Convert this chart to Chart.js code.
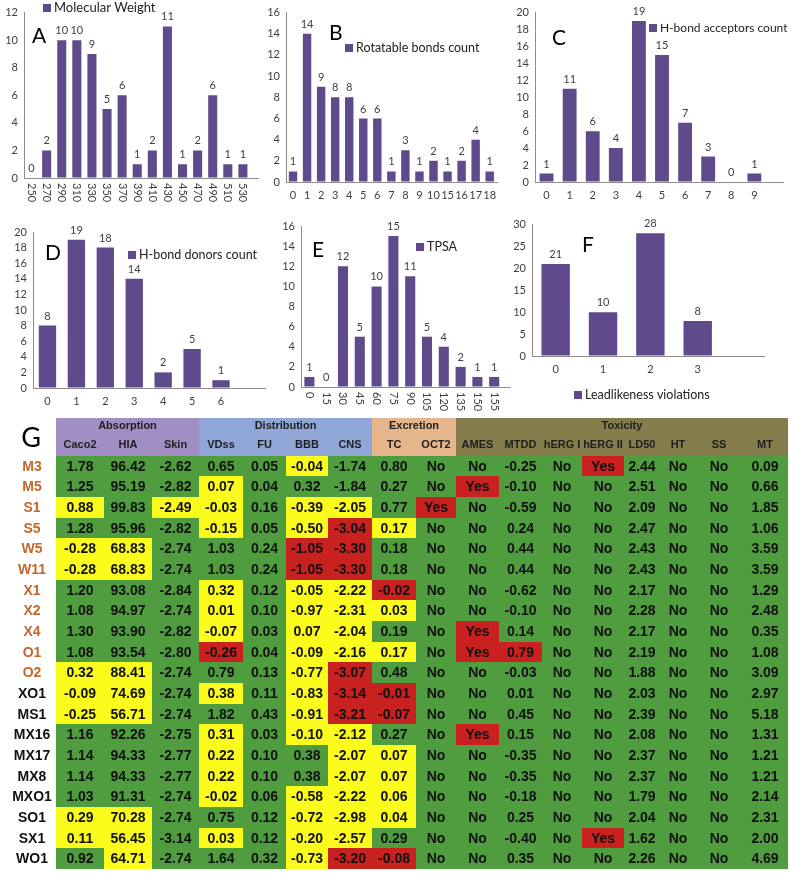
<!DOCTYPE html>
<html>
<head>
<meta charset="utf-8">
<script src="https://cdn.jsdelivr.net/npm/chart.js@4.4.1/dist/chart.umd.min.js"></script>
<style>
  body { margin: 0; background: #fff; width: 791px; height: 873px; position: relative; overflow: hidden; }
  canvas { position: absolute; }
</style>
</head>
<body>
<canvas id="chartA" width="262" height="210" style="left:0;top:0"></canvas>
<canvas id="chartB" width="243" height="210" style="left:262px;top:0"></canvas>
<canvas id="chartC" width="286" height="210" style="left:505px;top:0"></canvas>
<canvas id="chartD" width="270" height="200" style="left:0;top:212px"></canvas>
<canvas id="chartE" width="250" height="200" style="left:270px;top:212px"></canvas>
<canvas id="chartF" width="286" height="200" style="left:505px;top:212px"></canvas>
<canvas id="admetTable" width="791" height="461" style="left:0;top:412px"></canvas>
<script>
// histogram data (counts of compounds)
const mwLabels = ['250', '270', '290', '310', '330', '350', '370', '390', '410', '430', '450', '470', '490', '510', '530'];
const mwCounts = [0, 2, 10, 10, 9, 5, 6, 1, 2, 11, 1, 2, 6, 1, 1];

const rotLabels = ['0', '1', '2', '3', '4', '5', '6', '7', '8', '9', '10', '15', '16', '17', '18'];
const rotCounts = [1, 14, 9, 8, 8, 6, 6, 1, 3, 1, 2, 1, 2, 4, 1];

const accLabels = ['0', '1', '2', '3', '4', '5', '6', '7', '8', '9'];
const accCounts = [1, 11, 6, 4, 19, 15, 7, 3, 0, 1];

const donLabels = ['0', '1', '2', '3', '4', '5', '6'];
const donCounts = [8, 19, 18, 14, 2, 5, 1];

const tpsaLabels = ['0', '15', '30', '45', '60', '75', '90', '105', '120', '135', '150', '155'];
const tpsaCounts = [1, 0, 12, 5, 10, 15, 11, 5, 4, 2, 1, 1];

const leadLabels = ['0', '1', '2', '3'];
const leadCounts = [21, 10, 28, 8];

// ADMET table
const compounds = ['M3', 'M5', 'S1', 'S5', 'W5', 'W11', 'X1', 'X2', 'X4', 'O1', 'O2',
  'XO1', 'MS1', 'MX16', 'MX17', 'MX8', 'MXO1', 'SO1', 'SX1', 'WO1'];
const propGroups = ['Absorption', 'Distribution', 'Excretion', 'Toxicity'];
const groupSizes = [3, 4, 2, 8];
const properties = ['Caco2', 'HIA', 'Skin', 'VDss', 'FU', 'BBB', 'CNS', 'TC', 'OCT2',
  'AMES', 'MTDD', 'hERG I', 'hERG II', 'LD50', 'HT', 'SS', 'MT'];
const admet = [
  [1.78, 96.42, -2.62, 0.65, 0.05, -0.04, -1.74, 0.80, 'No', 'No', -0.25, 'No', 'Yes', 2.44, 'No', 'No', 0.09],
  [1.25, 95.19, -2.82, 0.07, 0.04, 0.32, -1.84, 0.27, 'No', 'Yes', -0.10, 'No', 'No', 2.51, 'No', 'No', 0.66],
  [0.88, 99.83, -2.49, -0.03, 0.16, -0.39, -2.05, 0.77, 'Yes', 'No', -0.59, 'No', 'No', 2.09, 'No', 'No', 1.85],
  [1.28, 95.96, -2.82, -0.15, 0.05, -0.50, -3.04, 0.17, 'No', 'No', 0.24, 'No', 'No', 2.47, 'No', 'No', 1.06],
  [-0.28, 68.83, -2.74, 1.03, 0.24, -1.05, -3.30, 0.18, 'No', 'No', 0.44, 'No', 'No', 2.43, 'No', 'No', 3.59],
  [-0.28, 68.83, -2.74, 1.03, 0.24, -1.05, -3.30, 0.18, 'No', 'No', 0.44, 'No', 'No', 2.43, 'No', 'No', 3.59],
  [1.20, 93.08, -2.84, 0.32, 0.12, -0.05, -2.22, -0.02, 'No', 'No', -0.62, 'No', 'No', 2.17, 'No', 'No', 1.29],
  [1.08, 94.97, -2.74, 0.01, 0.10, -0.97, -2.31, 0.03, 'No', 'No', -0.10, 'No', 'No', 2.28, 'No', 'No', 2.48],
  [1.30, 93.90, -2.82, -0.07, 0.03, 0.07, -2.04, 0.19, 'No', 'Yes', 0.14, 'No', 'No', 2.17, 'No', 'No', 0.35],
  [1.08, 93.54, -2.80, -0.26, 0.04, -0.09, -2.16, 0.17, 'No', 'Yes', 0.79, 'No', 'No', 2.19, 'No', 'No', 1.08],
  [0.32, 88.41, -2.74, 0.79, 0.13, -0.77, -3.07, 0.48, 'No', 'No', -0.03, 'No', 'No', 1.88, 'No', 'No', 3.09],
  [-0.09, 74.69, -2.74, 0.38, 0.11, -0.83, -3.14, -0.01, 'No', 'No', 0.01, 'No', 'No', 2.03, 'No', 'No', 2.97],
  [-0.25, 56.71, -2.74, 1.82, 0.43, -0.91, -3.21, -0.07, 'No', 'No', 0.45, 'No', 'No', 2.39, 'No', 'No', 5.18],
  [1.16, 92.26, -2.75, 0.31, 0.03, -0.10, -2.12, 0.27, 'No', 'Yes', 0.15, 'No', 'No', 2.08, 'No', 'No', 1.31],
  [1.14, 94.33, -2.77, 0.22, 0.10, 0.38, -2.07, 0.07, 'No', 'No', -0.35, 'No', 'No', 2.37, 'No', 'No', 1.21],
  [1.14, 94.33, -2.77, 0.22, 0.10, 0.38, -2.07, 0.07, 'No', 'No', -0.35, 'No', 'No', 2.37, 'No', 'No', 1.21],
  [1.03, 91.31, -2.74, -0.02, 0.06, -0.58, -2.22, 0.06, 'No', 'No', -0.18, 'No', 'No', 1.79, 'No', 'No', 2.14],
  [0.29, 70.28, -2.74, 0.75, 0.12, -0.72, -2.98, 0.04, 'No', 'No', 0.25, 'No', 'No', 2.04, 'No', 'No', 2.31],
  [0.11, 56.45, -3.14, 0.03, 0.12, -0.20, -2.57, 0.29, 'No', 'No', -0.40, 'No', 'Yes', 1.62, 'No', 'No', 2.00],
  [0.92, 64.71, -2.74, 1.64, 0.32, -0.73, -3.20, -0.08, 'No', 'No', 0.35, 'No', 'No', 2.26, 'No', 'No', 4.69]
];
// g = acceptable, y = borderline, r = unfavourable
const flags = [
  'gggggyggggggrgggg',
  'gggygggggrggggggg',
  'ygyygyygrgggggggg',
  'gggygyryggggggggg',
  'yygggrrgggggggggg',
  'yygggrrgggggggggg',
  'gggygyyrggggggggg',
  'gggygyyyggggggggg',
  'gggygyyggrggggggg',
  'gggrgyyygrrgggggg',
  'yygggyrgggggggggg',
  'yygygyrrggggggggg',
  'yygggyrrggggggggg',
  'gggygyyggrggggggg',
  'gggyggyyggggggggg',
  'gggyggyyggggggggg',
  'gggygyyyggggggggg',
  'yygggyyyggggggggg',
  'yygygyygggggrgggg',
  'gygggyrrggggggggg'
];

const BAR_COLOR = '#5f4a8b';
Chart.defaults.font.family = 'Lato, "Open Sans", sans-serif';
Chart.defaults.color = '#404040';

// value labels, legend box, panel letter, rotated tick labels
const barExtras = {
  id: 'barExtras',
  afterDatasetsDraw(chart, args, opts) {
    const ctx = chart.ctx;
    const ds = chart.data.datasets[0];
    const meta = chart.getDatasetMeta(0);
    ctx.save();
    ctx.font = '11px Lato';
    ctx.fillStyle = '#404040';
    ctx.textAlign = 'center';
    ctx.textBaseline = 'bottom';
    meta.data.forEach((bar, i) => {
      ctx.fillText(String(ds.data[i].y), bar.x, bar.y - 4);
    });

    if (opts.rotated) {
      const xs = chart.scales.x;
      ctx.textAlign = 'left';
      ctx.textBaseline = 'middle';
      opts.labels.forEach((lab, i) => {
        ctx.save();
        ctx.translate(xs.getPixelForValue(i), chart.chartArea.bottom + 5);
        ctx.rotate(Math.PI / 2);
        ctx.fillText(lab, 0, 0);
        ctx.restore();
      });
    }

    ctx.fillStyle = ds.backgroundColor;
    ctx.fillRect(opts.legendX, opts.legendY - 4, 8, 8);
    ctx.fillStyle = '#222';
    ctx.font = opts.legendSize + 'px Lato';
    ctx.textAlign = 'left';
    ctx.textBaseline = 'middle';
    ctx.fillText(ds.label, opts.legendX + 11, opts.legendY);

    ctx.font = '21px Lato';
    ctx.fillStyle = '#000';
    ctx.textBaseline = 'alphabetic';
    ctx.fillText(opts.letter, opts.letterX, opts.letterY);
    ctx.restore();
  }
};

function histogram(canvasId, title, labels, counts, s) {
  return new Chart(document.getElementById(canvasId), {
    type: 'bar',
    data: {
      datasets: [{
        label: title,
        data: counts.map((v, i) => ({ x: i, y: v })),
        backgroundColor: BAR_COLOR,
        barPercentage: 1,
        categoryPercentage: 0.6
      }]
    },
    options: {
      responsive: false,
      animation: false,
      events: [],
      layout: { padding: { top: s.padTop, right: s.padRight, left: 0, bottom: 0 } },
      plugins: {
        legend: { display: false },
        tooltip: { enabled: false },
        barExtras: {
          rotated: !!s.rotated, labels: labels,
          legendX: s.legendX, legendY: s.legendY, legendSize: s.legendSize || 12.5,
          letter: s.letter, letterX: s.letterX, letterY: s.letterY
        }
      },
      scales: {
        x: {
          type: 'linear',
          min: -0.5,
          max: s.xMax,
          offset: false,
          grid: { offset: false, drawOnChartArea: false, drawTicks: false },
          border: { display: true, color: '#8c8c8c' },
          ticks: {
            display: !s.rotated,
            stepSize: 1,
            autoSkip: false,
            includeBounds: false,
            maxRotation: 0,
            padding: 7,
            font: { size: 11 },
            callback: v => labels[v] !== undefined ? labels[v] : ''
          },
          afterFit: sc => { sc.height = s.xHeight; }
        },
        y: {
          min: 0,
          max: s.yMax,
          grid: { drawOnChartArea: false, drawTicks: false },
          border: { display: true, color: '#8c8c8c' },
          ticks: { stepSize: s.yStep, autoSkip: false, padding: 6, font: { size: 11 } },
          afterFit: sc => { sc.width = s.yWidth; }
        }
      }
    },
    plugins: [barExtras]
  });
}

histogram('chartA', 'Molecular Weight', mwLabels, mwCounts, {
  padTop: 10, padRight: 4, xHeight: 32, yWidth: 24, xMax: 15.0, yMax: 12, yStep: 2, rotated: true,
  legendX: 43, legendY: 8, legendSize: 13, letter: 'A', letterX: 32, letterY: 43
});
histogram('chartB', 'Rotatable bonds count', rotLabels, rotCounts, {
  padTop: 10, padRight: 8, xHeight: 28, yWidth: 24, xMax: 14.52, yMax: 16, yStep: 2,
  legendX: 83, legendY: 48, letter: 'B', letterX: 67, letterY: 40
});
histogram('chartC', 'H-bond acceptors count', accLabels, accCounts, {
  padTop: 10, padRight: 8, xHeight: 28, yWidth: 30, xMax: 10.24, yMax: 20, yStep: 2,
  legendX: 144, legendY: 28, legendSize: 12, letter: 'C', letterX: 47, letterY: 45
});
histogram('chartD', 'H-bond donors count', donLabels, donCounts, {
  padTop: 20, padRight: 5, xHeight: 24, yWidth: 33, xMax: 7.52, yMax: 20, yStep: 2,
  legendX: 128, legendY: 43, letter: 'D', letterX: 45, letterY: 48
});
histogram('chartE', 'TPSA', tpsaLabels, tpsaCounts, {
  padTop: 14, padRight: 10, xHeight: 25, yWidth: 31, xMax: 11.94, yMax: 16, yStep: 2, rotated: true,
  legendX: 146, legendY: 35, letter: 'E', letterX: 42, letterY: 45
});
histogram('chartF', 'Leadlikeness violations', leadLabels, leadCounts, {
  padTop: 7, padRight: 27, xHeight: 56, yWidth: 27, xMax: 4.4, yMax: 30, yStep: 5,
  legendX: 69, legendY: 183, letter: 'F', letterX: 77, letterY: 40
});

// table drawn cell by cell on the chart's linear scales
const tableDraw = {
  id: 'tableDraw',
  afterDraw(chart, args, opts) {
    const { ctx, scales: { x, y } } = chart;
    const edges = opts.colEdges;
    const box = (c0, c1, r0, r1) => {
      const left = Math.round(x.getPixelForValue(edges[c0]));
      const right = Math.round(x.getPixelForValue(edges[c1]));
      const top = Math.round(y.getPixelForValue(r0));
      const bottom = Math.round(y.getPixelForValue(r1));
      return { left, top, w: right - left, h: bottom - top, cx: (left + right) / 2, cy: (top + bottom) / 2 };
    };
    ctx.save();
    ctx.textAlign = 'center';
    ctx.textBaseline = 'middle';

    // header bands
    let c = 0;
    propGroups.forEach((g, gi) => {
      const b = box(c, c + groupSizes[gi], opts.headerTop, 0);
      ctx.fillStyle = opts.groupColors[gi];
      ctx.fillRect(b.left, b.top, b.w, b.h);
      ctx.fillStyle = '#1e1e1e';
      ctx.font = 'bold 11px "Liberation Sans", Arial';
      ctx.fillText(g, b.cx, y.getPixelForValue(opts.groupTextRow));
      c += groupSizes[gi];
    });
    properties.forEach((p, i) => {
      const b = box(i, i + 1, opts.headerTop, 0);
      ctx.fillText(p, b.cx, y.getPixelForValue(opts.propTextRow));
    });

    // data cells
    compounds.forEach((name, r) => {
      properties.forEach((p, ci) => {
        const b = box(ci, ci + 1, r, r + 1);
        ctx.fillStyle = opts.flagColors[flags[r][ci]];
        ctx.fillRect(b.left, b.top, b.w, b.h);
      });
    });
    ctx.font = 'bold 14px "Liberation Sans", Arial';
    compounds.forEach((name, r) => {
      properties.forEach((p, ci) => {
        const b = box(ci, ci + 1, r, r + 1);
        const v = admet[r][ci];
        ctx.fillStyle = '#111';
        ctx.fillText(typeof v === 'number' ? v.toFixed(2) : v, b.cx, b.cy + 1);
      });
      const rb = box(0, 1, r, r + 1);
      ctx.fillStyle = r < opts.orangeRows ? '#c4672c' : '#111';
      ctx.fillText(name, opts.labelX, rb.cy + 1);
    });

    ctx.font = '27px Lato';
    ctx.fillStyle = '#000';
    ctx.textAlign = 'center';
    ctx.textBaseline = 'alphabetic';
    ctx.fillText('G', opts.labelX - 1, 35);
    ctx.restore();
  }
};

new Chart(document.getElementById('admetTable'), {
  type: 'scatter',
  data: { datasets: [] },
  options: {
    responsive: false,
    animation: false,
    events: [],
    layout: { padding: { left: 56, right: 3, top: 6, bottom: 4 } },
    plugins: {
      legend: { display: false },
      tooltip: { enabled: false },
      tableDraw: {
        colEdges: [0, 48, 96, 143, 187, 230, 272, 316, 360, 400, 443, 486, 526, 568, 604, 640, 686, 732],
        headerTop: -1.83,
        groupTextRow: -1.45,
        propTextRow: -0.52,
        groupColors: ['#a18ec2', '#8fa6d7', '#e7b58b', '#857d4b'],
        flagColors: { g: '#4f9d3f', y: '#fbfb1c', r: '#c8211f' },
        orangeRows: 11,
        labelX: 32
      }
    },
    scales: {
      x: { type: 'linear', min: 0, max: 732, display: false },
      y: { type: 'linear', min: -1.83, max: 20, reverse: true, display: false }
    }
  },
  plugins: [tableDraw]
});
</script>
</body>
</html>
